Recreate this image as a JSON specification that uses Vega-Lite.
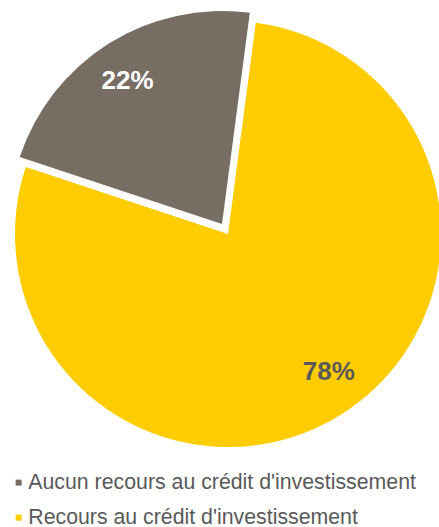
{
  "$schema": "https://vega.github.io/schema/vega-lite/v6.json",
  "width": 430,
  "height": 426,
  "autosize": {"type": "none"},
  "padding": {"left": 13, "top": 21, "right": 0, "bottom": 80},
  "background": "white",
  "view": {"stroke": null},
  "data": {
    "values": [
      {"cat": "Aucun recours au crédit d'investissement", "pct": 0.22},
      {"cat": "Recours au crédit d'investissement", "pct": 0.78}
    ]
  },
  "encoding": {
    "theta": {"field": "pct", "type": "quantitative", "stack": true, "scale": {"range": [-1.2514, 5.0318]}},
    "order": {"field": "pct", "sort": "ascending"},
    "color": {
      "field": "cat",
      "type": "nominal",
      "scale": {
        "domain": ["Aucun recours au crédit d'investissement", "Recours au crédit d'investissement"],
        "range": ["#786D63", "#FFCC00"]
      },
      "legend": {
        "title": null,
        "orient": "none",
        "legendX": -5,
        "legendY": 451,
        "padding": 0,
        "direction": "vertical",
        "symbolType": "square",
        "symbolSize": 36,
        "symbolStrokeWidth": 0,
        "labelFont": "Liberation Sans",
        "labelFontSize": 21.3,
        "labelColor": "#595959",
        "labelOffset": -1,
        "rowPadding": 13,
        "labelLimit": 500
      }
    }
  },
  "layer": [
    {
      "mark": {"type": "arc", "outerRadius": 213},
      "encoding": {
        "opacity": {"condition": {"test": "datum.cat === 'Recours au crédit d\\'investissement'", "value": 1}, "value": 0}
      }
    },
    {
      "mark": {"type": "arc", "outerRadius": 213, "xOffset": -6, "yOffset": -10},
      "encoding": {
        "opacity": {"condition": {"test": "datum.cat === 'Aucun recours au crédit d\\'investissement'", "value": 1}, "value": 0}
      }
    },
    {
      "mark": {"type": "text", "radius": 171, "dx": 10, "dy": -7, "font": "Liberation Sans", "fontSize": 26, "fontWeight": "bold", "align": "center", "baseline": "middle"},
      "encoding": {
        "text": {"field": "pct", "type": "quantitative", "format": ".0%"},
        "color": {"value": "#595959"},
        "opacity": {"condition": {"test": "datum.cat === 'Recours au crédit d\\'investissement'", "value": 1}, "value": 0}
      }
    },
    {
      "mark": {"type": "text", "radius": 172, "dx": -3, "dy": 3, "xOffset": -6, "yOffset": -10, "font": "Liberation Sans", "fontSize": 26, "fontWeight": "bold", "align": "center", "baseline": "middle"},
      "encoding": {
        "text": {"field": "pct", "type": "quantitative", "format": ".0%"},
        "color": {"value": "#FFFFFF"},
        "opacity": {"condition": {"test": "datum.cat === 'Aucun recours au crédit d\\'investissement'", "value": 1}, "value": 0}
      }
    }
  ]
}
